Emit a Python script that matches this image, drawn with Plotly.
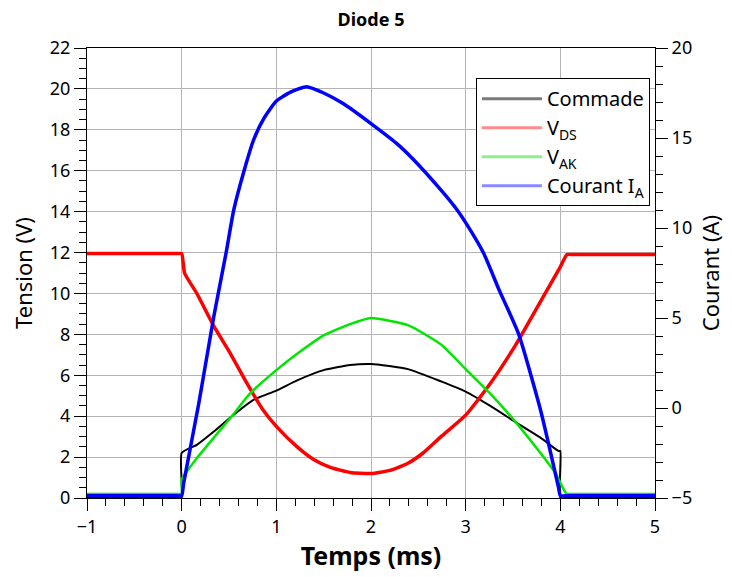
import plotly.graph_objects as go

# Commade (V, left axis)
t_cmd = [-1, -0.05, 0, 0, 0.16, 0.34, 0.53, 0.76, 1.0, 1.22, 1.5, 1.78, 2.0, 2.39, 2.74, 3.0, 3.26, 3.53, 3.79, 3.98, 4.0, 4.0, 4.05, 5]
v_cmd = [0, 0, 0, 2.2, 2.6, 3.25, 4.0, 4.8, 5.25, 5.75, 6.25, 6.5, 6.55, 6.3, 5.7, 5.2, 4.5, 3.7, 2.95, 2.3, 2.3, 0, 0, 0]

# V_DS (V, left axis)
t_vds = [-1, -0.05, 0, 0.03, 0.16, 0.34, 0.51, 0.69, 0.86, 1.0, 1.22, 1.39, 1.57, 1.78, 2.0, 2.2, 2.39, 2.55, 2.74, 3.0, 3.26, 3.53, 3.79, 4.0, 4.07, 4.12, 5]
v_vds = [11.95, 11.95, 11.95, 11.0, 10.0, 8.4, 7.1, 5.6, 4.3, 3.5, 2.5, 1.9, 1.5, 1.25, 1.2, 1.35, 1.7, 2.2, 3.0, 4.05, 5.6, 7.5, 9.6, 11.3, 11.9, 11.9, 11.9]

# V_AK (V, left axis)
t_vak = [-1, -0.05, 0, 0, 0.16, 0.34, 0.53, 0.72, 1.0, 1.22, 1.5, 1.78, 2.0, 2.39, 2.74, 3.0, 3.26, 3.53, 3.79, 3.95, 4.05, 4.07, 4.12, 5]
v_vak = [0.2, 0.2, 0.2, 0.9, 1.95, 2.95, 4.0, 5.1, 6.25, 7.05, 7.95, 8.5, 8.8, 8.45, 7.5, 6.3, 5.1, 3.7, 2.2, 1.2, 0.3, 0.2, 0.2, 0.2]

# Courant I_A (A, right axis)
t_ia = [-1, -0.05, 0, 0.02, 0.18, 0.34, 0.47, 0.55, 0.66, 0.76, 0.87, 1.0, 1.15, 1.32, 1.5, 1.71, 2.0, 2.27, 2.43, 2.74, 2.91, 3.0, 3.19, 3.35, 3.56, 3.79, 3.98, 4.0, 4.05, 5]
i_a = [-4.88, -4.88, -4.88, -4.2, 0.23, 5.1, 8.64, 11.0, 13.2, 14.9, 16.1, 17.05, 17.55, 17.85, 17.5, 16.9, 15.8, 14.7, 13.9, 12.1, 11.0, 10.3, 8.6, 6.6, 4.1, -0.1, -4.4, -4.88, -4.88, -4.88]

names = ["Commade", "V<sub>DS</sub>", "V<sub>AK</sub>", "Courant I<sub>A</sub>"]
legend_colors = ["#7a7a7a", "#ff8a8a", "#8af08a", "#8a8aff"]

FONT = "Noto Sans"

fig = go.Figure()
fig.add_trace(go.Scatter(x=t_cmd, y=v_cmd, mode="lines", line=dict(color="black", width=2, shape="spline", smoothing=0.5), showlegend=False))
fig.add_trace(go.Scatter(x=t_vds, y=v_vds, mode="lines", line=dict(color="#ff0000", width=3.5, shape="spline", smoothing=0.5), showlegend=False))
fig.add_trace(go.Scatter(x=t_vak, y=v_vak, mode="lines", line=dict(color="#00e600", width=2.5, shape="spline", smoothing=0.5), showlegend=False))
fig.add_trace(go.Scatter(x=t_ia, y=i_a, mode="lines", line=dict(color="#0000ff", width=3.5, shape="spline", smoothing=0.5), yaxis="y2", showlegend=False))

# legend entries (pale samples like the original)
for n, c in zip(names, legend_colors):
    fig.add_trace(go.Scatter(x=[None], y=[None], mode="lines", name=n, line=dict(color=c, width=3)))

tick_font = dict(family=FONT, size=18, color="black")

# page body has an 8px margin, so the figure is 724x569
fig.update_layout(
    width=724, height=569,
    paper_bgcolor="white", plot_bgcolor="white",
    margin=dict(l=74, r=77, t=40, b=79),
    font=dict(family=FONT, size=18, color="black"),
    title=dict(text="<b>Diode 5</b>", x=0.5, xref="paper", xanchor="center", y=0.979, yanchor="middle",
               font=dict(family=FONT, size=18, color="black")),
    xaxis=dict(range=[-1, 5], dtick=1, tick0=-1, showgrid=True, gridcolor="#b4b4b4", gridwidth=1,
               zeroline=False, showline=True, linecolor="black", linewidth=1, mirror=True,
               ticks="outside", ticklen=12, tickcolor="black", tickfont=tick_font,
               minor=dict(dtick=0.2, ticks="outside", ticklen=7, tickcolor="black", showgrid=False),
               title=dict(text="<b>Temps (ms)</b>", font=dict(family=FONT, size=25), standoff=8)),
    yaxis=dict(range=[0, 22], dtick=2, showgrid=True, gridcolor="#b4b4b4", gridwidth=1,
               zeroline=False, showline=True, linecolor="black", linewidth=1, mirror=True,
               ticks="outside", ticklen=12, tickcolor="black", tickfont=tick_font,
               minor=dict(dtick=0.5, ticks="outside", ticklen=7, tickcolor="black", showgrid=False),
               title=dict(text="Tension (V)", font=dict(family=FONT, size=22), standoff=14)),
    yaxis2=dict(range=[-5, 20], dtick=5, overlaying="y", side="right", showgrid=False,
                zeroline=False, showline=True, linecolor="black", linewidth=1,
                ticks="outside", ticklen=12, tickcolor="black", tickfont=tick_font,
                minor=dict(dtick=1, ticks="outside", ticklen=7, tickcolor="black", showgrid=False),
                title=dict(text="Courant (A)", font=dict(family=FONT, size=22), standoff=12)),
    legend=dict(x=0.991, y=0.933, xanchor="right", yanchor="top", bgcolor="white",
                bordercolor="black", borderwidth=1, font=dict(family=FONT, size=20),
                tracegroupgap=0, itemwidth=60),
)

fig.write_html("out.html")
